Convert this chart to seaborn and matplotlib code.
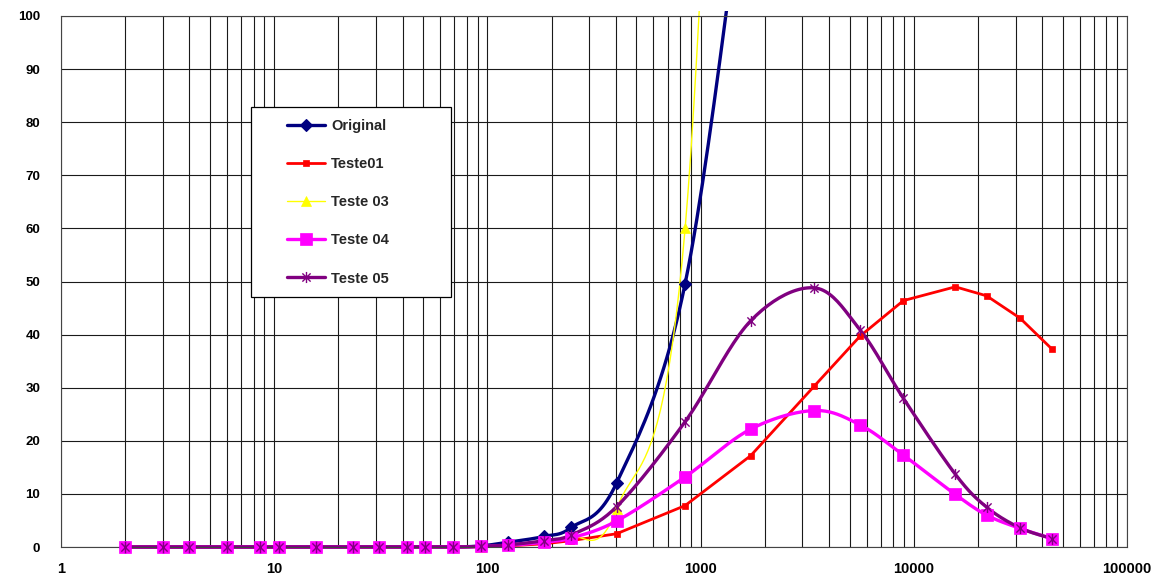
import numpy as np
import pandas as pd
import matplotlib
matplotlib.use("Agg")
import matplotlib.pyplot as plt
import seaborn as sns
from matplotlib.path import Path
from matplotlib.lines import Line2D
from matplotlib.patches import Rectangle
from matplotlib.legend_handler import HandlerLine2D
from matplotlib.ticker import LogLocator, NullFormatter

# ---------------- data ----------------
x_values = [2, 3, 4, 6, 8.6, 10.5, 15.7, 23.3, 31, 42, 51, 69, 93, 125, 185,
            248, 404, 846, 1718, 3413, 5595, 8935, 15660, 21960, 31500, 44400]

original = [0, 0, 0, 0, 0, 0, 0, 0, 0, 0, 0, 0, 0.2, 0.9, 2.0, 3.7, 12.1,
            49.6, 135, 220]
teste01 = [0, 0, 0, 0, 0, 0, 0, 0, 0, 0, 0, 0, 0.05, 0.2, 0.6, 1.2, 2.5,
           7.8, 17.2, 30.3, 39.7, 46.4, 49.0, 47.3, 43.1, 37.3]
teste03 = [0, 0, 0, 0, 0, 0, 0, 0, 0, 0, 0, 0, 0.05, 0.3, 1.0, 1.8, 7.2,
           60.0, 300, 400]
teste04 = [0, 0, 0, 0, 0, 0, 0, 0, 0, 0, 0, 0, 0.1, 0.3, 0.9, 1.7, 4.9,
           13.2, 22.2, 25.7, 23.0, 17.3, 9.9, 6.0, 3.5, 1.6]
teste05 = [0, 0, 0, 0, 0, 0, 0, 0, 0, 0, 0, 0, 0.1, 0.4, 1.2, 2.3, 7.6,
           23.6, 42.6, 48.8, 40.9, 28.0, 13.7, 7.5, 3.6, 1.6]

series_names = ["Original", "Teste01", "Teste 03", "Teste 04", "Teste 05"]
x_tick_values = [1, 10, 100, 1000, 10000, 100000]
x_tick_labels = ["1", "10", "100", "1000", "10000", "100000"]
y_tick_values = list(range(0, 101, 10))

# ---------------- helpers ----------------
def excel_smooth(xs, ys, n=24):
    """Catmull-Rom / Bezier smoothing (like Excel 'smoothed line') in log-x space."""
    u = np.log10(np.asarray(xs, float))
    v = np.asarray(ys, float)
    P = np.column_stack([u, v])
    m = len(P)
    out = [P[0]]
    t = np.linspace(0, 1, n)[1:, None]
    for i in range(m - 1):
        p0 = P[i - 1] if i > 0 else P[i]
        p1, p2 = P[i], P[i + 1]
        p3 = P[i + 2] if i + 2 < m else P[i + 1]
        c1 = p1 + (p2 - p0) / 6.0
        c2 = p2 - (p3 - p1) / 6.0
        seg = ((1 - t) ** 3) * p1 + 3 * ((1 - t) ** 2) * t * c1 + 3 * (1 - t) * t ** 2 * c2 + t ** 3 * p2
        out.extend(seg)
    out = np.array(out)
    return 10 ** out[:, 0], out[:, 1]

asterisk = Path([(-1, -1), (1, 1), (-1, 1), (1, -1), (0, -1.35), (0, 1.35)],
                [Path.MOVETO, Path.LINETO] * 3)

styles = [
    dict(color="#000080", lw=2.4, marker="D", ms=6.5, mfc="#000080", mec="#000080", mew=0.8, smooth=True),
    dict(color="#FF0000", lw=2.0, marker="s", ms=5.0, mfc="#FF0000", mec="#FF0000", mew=0.5, smooth=False),
    dict(color="#FFFF00", lw=1.0, marker="^", ms=7.0, mfc="#FFFF00", mec="#FFFF00", mew=0.5, smooth=True),
    dict(color="#FF00FF", lw=2.4, marker="s", ms=8.5, mfc="#FF00FF", mec="#FF00FF", mew=0.5, smooth=True),
    dict(color="#800080", lw=2.4, marker=asterisk, ms=8.0, mfc="none", mec="#800080", mew=1.0, smooth=True),
]
all_series = [original, teste01, teste03, teste04, teste05]

# ---------------- figure ----------------
sns.set_theme(style="white")
plt.rcParams["font.family"] = ["Liberation Sans", "DejaVu Sans"]
plt.rcParams["font.weight"] = "bold"

fig = plt.figure(figsize=(11.68, 5.88), dpi=100)
ax = fig.add_axes([61 / 1168, 41 / 588, 1066 / 1168, 531 / 588])
ax.set_xscale("log")
ax.set_xlim(1, 100000)
ax.set_ylim(0, 100)

clip_rect = Rectangle((-0.01, -0.02), 1.02, 1.03, transform=ax.transAxes,
                      facecolor="none", edgecolor="none")
ax.add_patch(clip_rect)

handles = []
for i, (name, ys, st) in enumerate(zip(series_names, all_series, styles)):
    xs = np.array(x_values[:len(ys)], float)
    ys = np.array(ys, float)
    if st["smooth"]:
        sx, sy = excel_smooth(xs, ys)
    else:
        sx, sy = xs, ys
    df = pd.DataFrame({"x": sx, "y": sy})
    sns.lineplot(data=df, x="x", y="y", ax=ax, color=st["color"], lw=st["lw"],
                 sort=False, estimator=None, legend=False, zorder=2 + i * 0.1)
    ln = ax.lines[-1]
    ln.set_clip_path(clip_rect)
    mask = ys <= 100
    ax.plot(xs[mask], ys[mask], ls="none", marker=st["marker"], ms=st["ms"],
            mfc=st["mfc"], mec=st["mec"], mew=st["mew"], clip_on=False,
            zorder=3 + i * 0.1)
    handles.append(Line2D([0], [0], color=st["color"], lw=st["lw"], marker=st["marker"],
                          ms=st["ms"], mfc=st["mfc"], mec=st["mec"], mew=st["mew"],
                          label=name))

ax.set_xlabel("")
ax.set_ylabel("")

# ticks
ax.set_xticks(x_tick_values)
ax.set_xticklabels(x_tick_labels)
ax.xaxis.set_minor_locator(LogLocator(base=10, subs=np.arange(2, 10), numticks=50))
ax.xaxis.set_minor_formatter(NullFormatter())
ax.set_yticks(y_tick_values)
ax.set_yticklabels([str(v) for v in y_tick_values])
ax.tick_params(axis="x", which="major", direction="out", length=4, width=0.8,
               color="#333333", labelcolor="black", pad=7, labelsize=10.5)
ax.tick_params(axis="x", which="minor", length=0)
ax.tick_params(axis="y", which="major", direction="out", length=6, width=0.8,
               color="#333333", labelcolor="black", pad=9, labelsize=9.5)
for lab in ax.get_xticklabels() + ax.get_yticklabels():
    lab.set_fontweight("bold")

# grid
ax.set_axisbelow(True)
ax.grid(True, which="major", axis="both", color="#1a1a1a", lw=0.8)
ax.grid(True, which="minor", axis="x", color="#1a1a1a", lw=0.8)
for sp in ax.spines.values():
    sp.set_visible(True)
    sp.set_color("#444444")
    sp.set_linewidth(0.8)

# legend
leg = ax.legend(handles=handles, loc="upper left",
                bbox_to_anchor=(0.1782, 0.467, 0.1876, 0.3616), mode="expand",
                borderaxespad=0, frameon=True, fancybox=False, framealpha=1,
                edgecolor="black", facecolor="white",
                prop={"weight": "bold", "size": 10.5},
                handlelength=4.3, handletextpad=0.4, borderpad=0.8,
                labelspacing=1.66, numpoints=1,
                handler_map={Line2D: HandlerLine2D(xpad=1.7)})
leg.get_frame().set_linewidth(0.9)
leg.set_zorder(10)

fig.savefig("out.png", dpi=100)
